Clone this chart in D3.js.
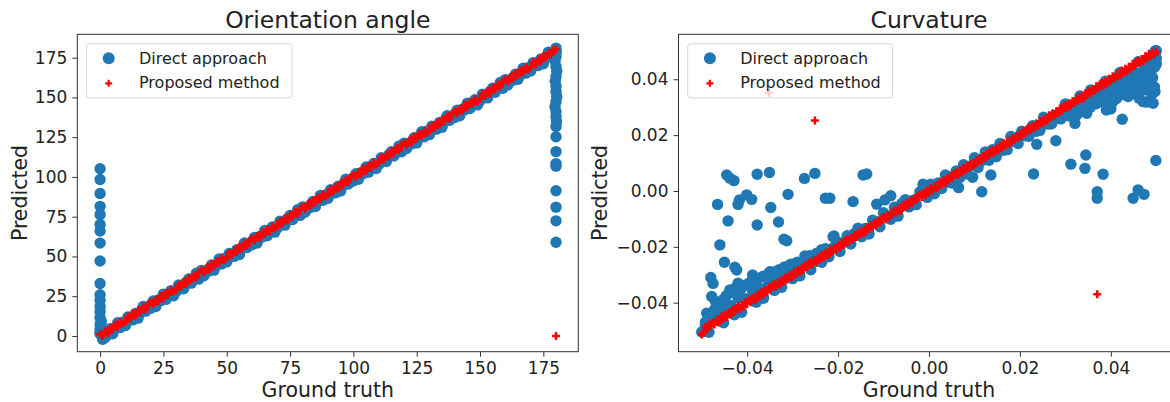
<!DOCTYPE html>
<html>
<head>
<meta charset="utf-8">
<script src="https://cdn.jsdelivr.net/npm/d3@7"></script>
<style>
  body { margin: 0; background: #fff; }
  svg { display: block; font-family: "DejaVu Sans", sans-serif; }
</style>
</head>
<body>
<svg id="chart" width="1170" height="402"></svg>
<script>
////////// Data /////////////

const titles = ["Orientation angle", "Curvature"];
const seriesNames = ["Direct approach", "Proposed method"];
const angleTicks = [0, 25, 50, 75, 100, 125, 150, 175];
const curvTicks = [-0.04, -0.02, 0.00, 0.02, 0.04];

// orientation angle: ground truth of the test set
const angleTruth = [
  0, 1, 2, 3, 4, 5, 6, 7, 8, 9, 10, 11, 12, 13, 14, 15, 16, 17, 18, 19,
  20, 21, 22, 23, 24, 25, 26, 27, 28, 29, 30, 31, 32, 33, 34, 35, 36, 37, 38, 39,
  40, 41, 42, 43, 44, 45, 46, 47, 48, 49, 50, 51, 52, 53, 54, 55, 56, 57, 58, 59,
  60, 61, 62, 63, 64, 65, 66, 67, 68, 69, 70, 71, 72, 73, 74, 75, 76, 77, 78, 79,
  80, 81, 82, 83, 84, 85, 86, 87, 88, 89, 90, 91, 92, 93, 94, 95, 96, 97, 98, 99,
  100, 101, 102, 103, 104, 105, 106, 107, 108, 109, 110, 111, 112, 113, 114, 115, 116, 117, 118, 119,
  120, 121, 122, 123, 124, 125, 126, 127, 128, 129, 130, 131, 132, 133, 134, 135, 136, 137, 138, 139,
  140, 141, 142, 143, 144, 145, 146, 147, 148, 149, 150, 151, 152, 153, 154, 155, 156, 157, 158, 159,
  160, 161, 162, 163, 164, 165, 166, 167, 168, 169, 170, 171, 172, 173, 174, 175, 176, 177, 178, 179,
  180
];
// orientation angle: direct approach predictions for angleTruth
const angleDirect = [
  1.2, -2.1, 1.2, 0.8, 4.6, 1.4, 4.5, 8.4, 5.3, 8.7, 6.6, 11.9, 10.1, 10.1, 14.2, 11.2, 14.9, 18.5, 15.6, 18.4,
  17.4, 22.0, 18.5, 22.6, 22.2, 26.3, 23.0, 26.1, 28.5, 25.3, 27.9, 32.1, 30.7, 29.7, 33.8, 35.8, 33.2, 35.4, 39.4, 35.8,
  41.2, 37.9, 41.2, 40.8, 44.6, 41.4, 44.5, 48.4, 45.3, 48.7, 46.6, 51.9, 50.1, 50.1, 54.2, 51.2, 54.9, 58.5, 55.6, 58.4,
  57.4, 62.0, 58.5, 62.6, 62.2, 66.3, 63.0, 66.1, 68.5, 65.3, 67.9, 72.1, 70.7, 69.7, 73.8, 75.8, 73.2, 75.4, 79.4, 75.8,
  81.2, 77.9, 81.2, 80.8, 84.6, 81.4, 84.5, 88.4, 85.3, 88.7, 86.6, 91.9, 90.1, 90.1, 94.2, 91.2, 94.9, 98.5, 95.6, 98.4,
  97.4, 102.0, 98.5, 102.6, 102.2, 106.3, 103.0, 106.1, 108.5, 105.3, 107.9, 112.1, 110.7, 109.7, 113.8, 115.8, 113.2, 115.4, 119.4, 115.8,
  121.2, 117.9, 121.2, 120.8, 124.6, 121.4, 124.5, 128.4, 125.3, 128.7, 126.6, 131.9, 130.1, 130.1, 134.2, 131.2, 134.9, 138.5, 135.6, 138.4,
  137.4, 142.0, 138.5, 142.6, 142.2, 146.3, 143.0, 146.1, 148.5, 145.3, 147.9, 152.1, 150.7, 149.7, 153.8, 155.8, 153.2, 155.4, 159.4, 155.8,
  161.2, 157.9, 161.2, 160.8, 164.6, 161.4, 164.5, 168.4, 165.3, 168.7, 166.6, 171.9, 170.1, 170.1, 174.2, 171.2, 174.9, 178.5, 175.6, 178.4,
  178.8
];
// orientation angle: direct approach, wrapped samples near 0 and 180
const angleDirectOutX = [
  0, 0, 0, 0, 0, 0, 0, 0, 0, 0, 0, 0, 0, 0, 0, 0, 0, 0, 1, 2, 0.5,
  180, 180, 180, 179.6, 180, 180.3, 180, 179.7, 180, 180, 180.3, 180, 179.6, 180, 180, 180.2, 180,
  180, 180, 180, 180, 180, 180, 180, 180
];
const angleDirectOutY = [
  105.2, 98.4, 89.6, 81.5, 76.3, 70.1, 66.0, 58.4, 47.1, 33.0, 25.9, 22.4, 18.6, 15.2, 11.4, 7.2, 4.1, 2.0, -1.8, -1.0, 9.0,
  181.0, 178.3, 175.6, 172.8, 169.5, 166.4, 163.2, 160.1, 157.0, 153.8, 150.6, 147.4, 144.2, 141.0, 137.9, 134.8, 131.7,
  125.3, 115.9, 108.4, 106.8, 91.3, 81.0, 72.4, 58.9
];
// orientation angle: proposed method predictions for angleTruth
const angleProposed = [
  1.1, 0.0, 2.8, 1.8, 5.2, 4.1, 7.0, 5.9, 8.9, 7.8, 9.0, 12.2, 10.9, 13.9, 12.8, 16.1, 15.2, 18.0, 16.8, 19.9,
  21.1, 20.0, 22.8, 21.8, 25.2, 24.1, 27.0, 25.9, 28.9, 27.8, 29.0, 32.2, 30.9, 33.9, 32.8, 36.1, 35.2, 38.0, 36.8, 39.9,
  41.1, 40.0, 42.8, 41.8, 45.2, 44.1, 47.0, 45.9, 48.9, 47.8, 49.0, 52.2, 50.9, 53.9, 52.8, 56.1, 55.2, 58.0, 56.8, 59.9,
  61.1, 60.0, 62.8, 61.8, 65.2, 64.1, 67.0, 65.9, 68.9, 67.8, 69.0, 72.2, 70.9, 73.9, 72.8, 76.1, 75.2, 78.0, 76.8, 79.9,
  81.1, 80.0, 82.8, 81.8, 85.2, 84.1, 87.0, 85.9, 88.9, 87.8, 89.0, 92.2, 90.9, 93.9, 92.8, 96.1, 95.2, 98.0, 96.8, 99.9,
  101.1, 100.0, 102.8, 101.8, 105.2, 104.1, 107.0, 105.9, 108.9, 107.8, 109.0, 112.2, 110.9, 113.9, 112.8, 116.1, 115.2, 118.0, 116.8, 119.9,
  121.1, 120.0, 122.8, 121.8, 125.2, 124.1, 127.0, 125.9, 128.9, 127.8, 129.0, 132.2, 130.9, 133.9, 132.8, 136.1, 135.2, 138.0, 136.8, 139.9,
  141.1, 140.0, 142.8, 141.8, 145.2, 144.1, 147.0, 145.9, 148.9, 147.8, 149.0, 152.2, 150.9, 153.9, 152.8, 156.1, 155.2, 158.0, 156.8, 159.9,
  161.1, 160.0, 162.8, 161.8, 165.2, 164.1, 167.0, 165.9, 168.9, 167.8, 169.0, 172.2, 170.9, 173.9, 172.8, 176.1, 175.2, 178.0, 176.8, 179.9,
  180.3
];
// orientation angle: proposed method, wrapped sample
const angleProposedOutX = [180];
const angleProposedOutY = [0];

// curvature: direct approach (ground truth / predicted)
const curvDirectX = [
  -0.0500, -0.0492, -0.0484, -0.0476, -0.0468, -0.0460, -0.0452, -0.0444, -0.0436, -0.0428,
  -0.0420, -0.0412, -0.0404, -0.0396, -0.0388, -0.0380, -0.0372, -0.0364, -0.0356, -0.0348,
  -0.0340, -0.0332, -0.0324, -0.0316, -0.0308, -0.0300, -0.0292, -0.0284, -0.0276, -0.0268,
  -0.0260, -0.0252, -0.0244, -0.0236, -0.0228, -0.0220, -0.0212, -0.0204, -0.0196, -0.0188,
  -0.0180, -0.0172, -0.0164, -0.0156, -0.0148, -0.0140, -0.0132, -0.0124, -0.0116, -0.0108,
  -0.0100, -0.0092, -0.0084, -0.0076, -0.0068, -0.0060, -0.0052, -0.0044, -0.0036, -0.0028,
  -0.0020, -0.0012, -0.0004, 0.0004, 0.0012, 0.0020, 0.0028, 0.0036, 0.0044, 0.0052,
  0.0060, 0.0068, 0.0076, 0.0084, 0.0092, 0.0100, 0.0108, 0.0116, 0.0124, 0.0132,
  0.0140, 0.0148, 0.0156, 0.0164, 0.0172, 0.0180, 0.0188, 0.0196, 0.0204, 0.0212,
  0.0220, 0.0228, 0.0236, 0.0244, 0.0252, 0.0260, 0.0268, 0.0276, 0.0284, 0.0292,
  0.0300, 0.0308, 0.0316, 0.0324, 0.0332, 0.0340, 0.0348, 0.0356, 0.0364, 0.0372,
  0.0380, 0.0388, 0.0396, 0.0404, 0.0412, 0.0420, 0.0428, 0.0436, 0.0444, 0.0452,
  0.0460, 0.0468, 0.0476, 0.0484, 0.0492, 0.0500,
  -0.0445, -0.0438, -0.0429, -0.0378, -0.0351, -0.0274, -0.0251, -0.0465, -0.0417, -0.0420,
  -0.0401, -0.0390, -0.0348, -0.0310, -0.0228, -0.0442, -0.0378, -0.0331, -0.0319, -0.0313,
  -0.0460, -0.0209, -0.0450, -0.0427, -0.0423, -0.0480, -0.0475, -0.0388, -0.0489, -0.0478,
  -0.0438, -0.0420, -0.0350, -0.0299, -0.0273, -0.0247, -0.0145, -0.0137, -0.0218, -0.0167,
  -0.0115, -0.0097, -0.0084, -0.0013, -0.0211, 0.0065, 0.0096, 0.0116, 0.0136, 0.0230,
  0.0237, 0.0279, 0.0321, 0.0425, 0.0400, 0.0404, 0.0471, 0.0493, 0.0497, 0.0442,
  0.0345, 0.0312, 0.0343, 0.0383, 0.0499, 0.0370, 0.0370, 0.0460, 0.0449, 0.0473,
  0.0270, 0.0290, 0.0310, 0.0325, 0.0340, 0.0355, 0.0368, 0.0385, 0.0398, 0.0390,
  0.0347, 0.0412, 0.0425, 0.0438, 0.0450, 0.0462, 0.0478, 0.0490, 0.0496, 0.0482,
  0.0470, 0.0488, 0.0497, 0.0460, 0.0445, 0.0430, 0.0415, 0.0400, 0.0380, 0.0360, 0.0498,
  -0.0492, -0.0485, -0.0480, -0.0472, -0.0466, -0.0470, -0.0458, -0.0452, -0.0446, -0.0440,
  -0.0432, -0.0426, -0.0414, -0.0408, -0.0398, -0.0390, -0.0378, -0.0366, -0.0356, -0.0342,
  -0.0330, -0.0318, -0.0304, -0.0290, -0.0262, -0.0236,
  0.0330, 0.0352, 0.0372, 0.0392, 0.0408, 0.0420, 0.0435, 0.0452, 0.0465, 0.0478,
  0.0490, 0.0500, 0.0500, 0.0492, 0.0475, 0.0455
];
const curvDirectY = [
  -0.0505, -0.0480, -0.0506, -0.0456, -0.0460, -0.0429, -0.0472, -0.0429, -0.0410, -0.0443,
  -0.0382, -0.0434, -0.0386, -0.0387, -0.0359, -0.0398, -0.0350, -0.0384, -0.0342, -0.0315,
  -0.0356, -0.0313, -0.0345, -0.0305, -0.0284, -0.0314, -0.0270, -0.0304, -0.0262, -0.0250,
  -0.0282, -0.0234, -0.0252, -0.0255, -0.0207, -0.0235, -0.0205, -0.0180, -0.0217, -0.0184,
  -0.0160, -0.0190, -0.0152, -0.0133, -0.0164, -0.0134, -0.0154, -0.0105, -0.0115, -0.0128,
  -0.0078, -0.0089, -0.0101, -0.0058, -0.0090, -0.0045, -0.0031, -0.0057, -0.0034, -0.0049,
  -0.0003, -0.0003, -0.0023, 0.0024, -0.0010, 0.0029, 0.0009, 0.0057, 0.0031, 0.0028,
  0.0072, 0.0048, 0.0094, 0.0061, 0.0090, 0.0119, 0.0084, 0.0108, 0.0140, 0.0110,
  0.0148, 0.0123, 0.0170, 0.0146, 0.0148, 0.0195, 0.0178, 0.0170, 0.0214, 0.0198,
  0.0196, 0.0234, 0.0214, 0.0217, 0.0264, 0.0240, 0.0240, 0.0270, 0.0260, 0.0274,
  0.0312, 0.0286, 0.0308, 0.0289, 0.0340, 0.0328, 0.0320, 0.0362, 0.0322, 0.0356,
  0.0361, 0.0393, 0.0363, 0.0356, 0.0388, 0.0424, 0.0390, 0.0422, 0.0392, 0.0425,
  0.0463, 0.0424, 0.0458, 0.0424, 0.0480, 0.0502,
  0.0057, 0.0046, 0.0037, 0.0060, 0.0066, 0.0045, 0.0063, -0.0048, -0.0032, -0.0048,
  -0.0014, -0.0030, -0.0059, -0.0012, -0.0026, -0.0107, -0.0122, -0.0111, -0.0173, -0.0178,
  -0.0193, -0.0161, -0.0255, -0.0273, -0.0283, -0.0310, -0.0331, -0.0301, -0.0438, -0.0378,
  -0.0354, -0.0330, -0.0289, -0.0265, -0.0233, -0.0223, 0.0057, 0.0061, -0.0026, -0.0038,
  -0.0047, -0.0032, -0.0017, 0.0024, -0.0164, 0.0012, 0.0049, -0.0003, 0.0057, 0.0061,
  0.0167, 0.0180, 0.0242, 0.0257, 0.0294, 0.0320, 0.0320, 0.0314, 0.0356, 0.0350,
  0.0129, 0.0096, 0.0081, 0.0060, 0.0109, -0.0003, -0.0026, 0.0004, -0.0026, -0.0012,
  0.0242, 0.0258, 0.0268, 0.0272, 0.0290, 0.0300, 0.0312, 0.0318, 0.0302, 0.0290,
  0.0278, 0.0330, 0.0345, 0.0338, 0.0350, 0.0332, 0.0318, 0.0345, 0.0372, 0.0390,
  0.0405, 0.0425, 0.0445, 0.0380, 0.0372, 0.0365, 0.0352, 0.0345, 0.0338, 0.0322, 0.0502,
  -0.0470, -0.0452, -0.0440, -0.0425, -0.0410, -0.0395, -0.0400, -0.0388, -0.0375, -0.0365,
  -0.0360, -0.0348, -0.0352, -0.0340, -0.0332, -0.0323, -0.0318, -0.0306, -0.0300, -0.0290,
  -0.0282, -0.0272, -0.0262, -0.0255, -0.0232, -0.0210,
  0.0298, 0.0312, 0.0330, 0.0340, 0.0362, 0.0380, 0.0392, 0.0405, 0.0420, 0.0438,
  0.0460, 0.0475, 0.0455, 0.0405, 0.0362, 0.0360
];

// curvature: proposed method (ground truth / predicted)
const curvProposedX = [
  -0.0500, -0.0496, -0.0492, -0.0488, -0.0484, -0.0480, -0.0476, -0.0472, -0.0468, -0.0464,
  -0.0460, -0.0456, -0.0452, -0.0448, -0.0444, -0.0440, -0.0436, -0.0432, -0.0428, -0.0424,
  -0.0420, -0.0416, -0.0412, -0.0408, -0.0404, -0.0400, -0.0396, -0.0392, -0.0388, -0.0384,
  -0.0380, -0.0376, -0.0372, -0.0368, -0.0364, -0.0360, -0.0356, -0.0352, -0.0348, -0.0344,
  -0.0340, -0.0336, -0.0332, -0.0328, -0.0324, -0.0320, -0.0316, -0.0312, -0.0308, -0.0304,
  -0.0300, -0.0296, -0.0292, -0.0288, -0.0284, -0.0280, -0.0276, -0.0272, -0.0268, -0.0264,
  -0.0260, -0.0256, -0.0252, -0.0248, -0.0244, -0.0240, -0.0236, -0.0232, -0.0228, -0.0224,
  -0.0220, -0.0216, -0.0212, -0.0208, -0.0204, -0.0200, -0.0196, -0.0192, -0.0188, -0.0184,
  -0.0180, -0.0176, -0.0172, -0.0168, -0.0164, -0.0160, -0.0156, -0.0152, -0.0148, -0.0144,
  -0.0140, -0.0136, -0.0132, -0.0128, -0.0124, -0.0120, -0.0116, -0.0112, -0.0108, -0.0104,
  -0.0100, -0.0096, -0.0092, -0.0088, -0.0084, -0.0080, -0.0076, -0.0072, -0.0068, -0.0064,
  -0.0060, -0.0056, -0.0052, -0.0048, -0.0044, -0.0040, -0.0036, -0.0032, -0.0028, -0.0024,
  -0.0020, -0.0016, -0.0012, -0.0008, -0.0004, 0.0000, 0.0004, 0.0008, 0.0012, 0.0016,
  0.0020, 0.0024, 0.0028, 0.0032, 0.0036, 0.0040, 0.0044, 0.0048, 0.0052, 0.0056,
  0.0060, 0.0064, 0.0068, 0.0072, 0.0076, 0.0080, 0.0084, 0.0088, 0.0092, 0.0096,
  0.0100, 0.0104, 0.0108, 0.0112, 0.0116, 0.0120, 0.0124, 0.0128, 0.0132, 0.0136,
  0.0140, 0.0144, 0.0148, 0.0152, 0.0156, 0.0160, 0.0164, 0.0168, 0.0172, 0.0176,
  0.0180, 0.0184, 0.0188, 0.0192, 0.0196, 0.0200, 0.0204, 0.0208, 0.0212, 0.0216,
  0.0220, 0.0224, 0.0228, 0.0232, 0.0236, 0.0240, 0.0244, 0.0248, 0.0252, 0.0256,
  0.0260, 0.0264, 0.0268, 0.0272, 0.0276, 0.0280, 0.0284, 0.0288, 0.0292, 0.0296,
  0.0300, 0.0304, 0.0308, 0.0312, 0.0316, 0.0320, 0.0324, 0.0328, 0.0332, 0.0336,
  0.0340, 0.0344, 0.0348, 0.0352, 0.0356, 0.0360, 0.0364, 0.0368, 0.0372, 0.0376,
  0.0380, 0.0384, 0.0388, 0.0392, 0.0396, 0.0400, 0.0404, 0.0408, 0.0412, 0.0416,
  0.0420, 0.0424, 0.0428, 0.0432, 0.0436, 0.0440, 0.0444, 0.0448, 0.0452, 0.0456,
  0.0460, 0.0464, 0.0468, 0.0472, 0.0476, 0.0480, 0.0484, 0.0488, 0.0492, 0.0496,
  0.0500,
  -0.0352, -0.0251, 0.0370
];
const curvProposedY = [
  -0.0514, -0.0508, -0.0487, -0.0495, -0.0478, -0.0485, -0.0469, -0.0478, -0.0463, -0.0471,
  -0.0466, -0.0449, -0.0457, -0.0442, -0.0451, -0.0435, -0.0442, -0.0425, -0.0433, -0.0418,
  -0.0413, -0.0422, -0.0407, -0.0415, -0.0398, -0.0405, -0.0389, -0.0398, -0.0383, -0.0391,
  -0.0386, -0.0369, -0.0377, -0.0362, -0.0371, -0.0355, -0.0362, -0.0345, -0.0353, -0.0338,
  -0.0333, -0.0342, -0.0327, -0.0335, -0.0318, -0.0325, -0.0309, -0.0318, -0.0303, -0.0311,
  -0.0306, -0.0289, -0.0297, -0.0282, -0.0291, -0.0275, -0.0282, -0.0265, -0.0273, -0.0258,
  -0.0253, -0.0262, -0.0247, -0.0255, -0.0238, -0.0245, -0.0229, -0.0238, -0.0223, -0.0231,
  -0.0226, -0.0209, -0.0217, -0.0202, -0.0211, -0.0195, -0.0202, -0.0185, -0.0193, -0.0178,
  -0.0173, -0.0182, -0.0167, -0.0175, -0.0158, -0.0165, -0.0149, -0.0158, -0.0143, -0.0151,
  -0.0146, -0.0129, -0.0137, -0.0122, -0.0131, -0.0115, -0.0122, -0.0105, -0.0113, -0.0098,
  -0.0093, -0.0102, -0.0087, -0.0095, -0.0078, -0.0085, -0.0069, -0.0078, -0.0063, -0.0071,
  -0.0066, -0.0049, -0.0057, -0.0042, -0.0051, -0.0035, -0.0042, -0.0025, -0.0033, -0.0018,
  -0.0013, -0.0022, -0.0007, -0.0015, 0.0002, -0.0005, 0.0011, 0.0002, 0.0017, 0.0009,
  0.0014, 0.0031, 0.0023, 0.0038, 0.0029, 0.0045, 0.0038, 0.0055, 0.0047, 0.0062,
  0.0067, 0.0058, 0.0073, 0.0065, 0.0082, 0.0075, 0.0091, 0.0082, 0.0097, 0.0089,
  0.0094, 0.0111, 0.0103, 0.0118, 0.0109, 0.0125, 0.0118, 0.0135, 0.0127, 0.0142,
  0.0147, 0.0138, 0.0153, 0.0145, 0.0162, 0.0155, 0.0171, 0.0162, 0.0177, 0.0169,
  0.0174, 0.0191, 0.0183, 0.0198, 0.0189, 0.0205, 0.0198, 0.0215, 0.0207, 0.0222,
  0.0227, 0.0218, 0.0233, 0.0225, 0.0242, 0.0235, 0.0251, 0.0242, 0.0257, 0.0249,
  0.0254, 0.0271, 0.0263, 0.0278, 0.0269, 0.0285, 0.0278, 0.0295, 0.0287, 0.0302,
  0.0307, 0.0298, 0.0313, 0.0305, 0.0322, 0.0315, 0.0331, 0.0322, 0.0337, 0.0329,
  0.0334, 0.0351, 0.0343, 0.0358, 0.0349, 0.0365, 0.0358, 0.0375, 0.0367, 0.0382,
  0.0387, 0.0378, 0.0393, 0.0385, 0.0402, 0.0395, 0.0411, 0.0402, 0.0417, 0.0409,
  0.0414, 0.0431, 0.0423, 0.0438, 0.0429, 0.0445, 0.0438, 0.0455, 0.0447, 0.0462,
  0.0467, 0.0458, 0.0473, 0.0465, 0.0482, 0.0475, 0.0491, 0.0482, 0.0497, 0.0489,
  0.0498,
  0.0352, 0.0252, -0.0370
];

////////// Drawing /////////////

const svg = d3.select("#chart");
const blue = "#1f77b4";
const red = "#ff0000";
const plusPath = "M-4,0H4M0,-4V4";
const legendPlus = "M-3.5,0H3.5M0,-3.5V3.5";
const dotR = 5.7;

const zip = (xs, ys) => xs.map((v, i) => [v, ys[i]]);

function drawPanel(p) {
  const x = d3.scaleLinear().domain(p.xDomain).range([p.left, p.right]);
  const y = d3.scaleLinear().domain(p.yDomain).range([p.bottom, p.top]);
  const g = svg.append("g");

  // scatter: direct first, proposed on top
  g.append("g").selectAll("circle")
    .data(p.direct)
    .enter().append("circle")
    .attr("cx", d => x(d[0]))
    .attr("cy", d => y(d[1]))
    .attr("r", dotR)
    .attr("fill", blue);

  g.append("g").selectAll("path")
    .data(p.proposed)
    .enter().append("path")
    .attr("d", plusPath)
    .attr("transform", d => `translate(${x(d[0])},${y(d[1])})`)
    .attr("stroke", red)
    .attr("stroke-width", 2.5)
    .attr("fill", "none");

  // axes
  const xAxis = g.append("g")
    .attr("transform", `translate(0,${p.bottom})`)
    .call(d3.axisBottom(x).tickValues(p.xTicks).tickFormat(p.fmt).tickSize(5).tickPadding(5));
  const yAxis = g.append("g")
    .attr("transform", `translate(${p.left},0)`)
    .call(d3.axisLeft(y).tickValues(p.yTicks).tickFormat(p.fmt).tickSize(5).tickPadding(5));
  [xAxis, yAxis].forEach(a => {
    a.select(".domain").remove();
    a.selectAll(".tick line").attr("stroke", "#333").attr("stroke-width", 1);
    a.selectAll(".tick text")
      .attr("fill", "#222")
      .style("font-size", "17px")
      .style("font-family", "DejaVu Sans, sans-serif");
  });

  // frame
  g.append("rect")
    .attr("x", p.left).attr("y", p.top)
    .attr("width", p.right - p.left).attr("height", p.bottom - p.top)
    .attr("fill", "none").attr("stroke", "#333").attr("stroke-width", 1);

  const cx = (p.left + p.right) / 2;
  g.append("text")
    .attr("x", cx).attr("y", 27.5)
    .attr("text-anchor", "middle")
    .attr("fill", "#222")
    .style("font-size", "23.5px")
    .text(p.title);
  g.append("text")
    .attr("x", cx).attr("y", 397)
    .attr("text-anchor", "middle")
    .attr("fill", "#222")
    .style("font-size", "20.5px")
    .text("Ground truth");
  g.append("text")
    .attr("transform", `translate(${p.ylabelX},${(p.top + p.bottom) / 2}) rotate(-90)`)
    .attr("text-anchor", "middle")
    .attr("fill", "#222")
    .style("font-size", "20.5px")
    .text("Predicted");

  // legend
  const lg = g.append("g").attr("transform", `translate(${p.left + 8.7},${p.top + 9})`);
  lg.append("rect")
    .attr("x", 0.5).attr("y", 0.5)
    .attr("width", p.legendW).attr("height", 54)
    .attr("rx", 3)
    .attr("fill", "#fff").attr("fill-opacity", 0.8)
    .attr("stroke", "#d6d6d6").attr("stroke-width", 1);
  lg.append("circle").attr("cx", 22.7).attr("cy", 15).attr("r", 6).attr("fill", blue);
  lg.append("path").attr("d", legendPlus)
    .attr("transform", "translate(22.7,40)")
    .attr("stroke", red).attr("stroke-width", 2.2).attr("fill", "none");
  lg.selectAll("text.leg")
    .data(seriesNames)
    .enter().append("text")
    .attr("class", "leg")
    .attr("x", 53)
    .attr("y", (d, i) => 20.5 + i * 24)
    .attr("fill", "#222")
    .style("font-size", "16px")
    .text(d => d);
}

drawPanel({
  title: titles[0],
  left: 77.3, right: 578.3, top: 34.3, bottom: 351.7,
  xDomain: [-9, 188.8], yDomain: [-9.9, 189.7],
  xTicks: angleTicks, yTicks: angleTicks,
  fmt: d3.format("d"),
  ylabelX: 27,
  legendW: 205.5,
  direct: zip(angleTruth, angleDirect).concat(zip(angleDirectOutX, angleDirectOutY)),
  proposed: zip(angleTruth, angleProposed).concat(zip(angleProposedOutX, angleProposedOutY))
});

drawPanel({
  title: titles[1],
  left: 678.5, right: 1179.5, top: 34.3, bottom: 351.7,
  xDomain: [-0.0551, 0.0551], yDomain: [-0.05755, 0.0561],
  xTicks: curvTicks, yTicks: curvTicks,
  fmt: d3.format(".2f"),
  ylabelX: 607,
  legendW: 205,
  direct: zip(curvDirectX, curvDirectY),
  proposed: zip(curvProposedX, curvProposedY)
});
</script>
</body>
</html>
